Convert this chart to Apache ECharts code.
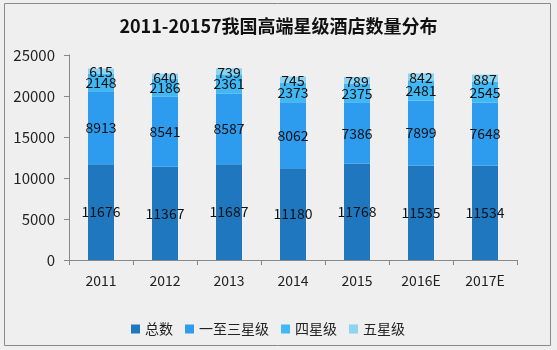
<!DOCTYPE html>
<html>
<head>
<meta charset="utf-8">
<script src="https://cdn.jsdelivr.net/npm/echarts@6/dist/echarts.min.js"></script>
<style>
html,body{margin:0;padding:0;background:#efefef;}
#c{width:557px;height:350px;}
</style>
</head>
<body>
<div id="c"></div>
<script>
var title = '2011-20157我国高端星级酒店数量分布';
var categories = ['2011','2012','2013','2014','2015','2016E','2017E'];
var seriesNames = ['总数','一至三星级','四星级','五星级'];
var total = [11676,11367,11687,11180,11768,11535,11534];
var star1to3 = [8913,8541,8587,8062,7386,7899,7648];
var star4 = [2148,2186,2361,2373,2375,2481,2545];
var star5 = [615,640,739,745,789,842,887];
var yTicks = [0,5000,10000,15000,20000,25000];

var colors = ['#1f77bf','#2e9cee','#3fb8f4','#8dd3f2'];
var font = "'Noto Sans CJK SC','Noto Sans',sans-serif";
var chart = echarts.init(document.getElementById('c'));
function mk(name, data, idx, offset){
  return {
    name: name, type: 'bar', stack: 's', data: data, barWidth: 26,
    itemStyle: {color: colors[idx]},
    label: {show: true, position: 'inside', color: '#111', fontSize: 14, fontFamily: font, offset: offset || [0,0]}
  };
}
chart.setOption({
  backgroundColor: '#efefef',
  animation: false,
  color: colors,
  title: {text: title, left: 'center', top: 12, textStyle: {fontSize: 18, fontWeight: 'bold', color: '#111', fontFamily: font}},
  graphic: [{type:'rect', shape:{x:4.5,y:3.5,width:546,height:342}, style:{fill:null, stroke:'#8a8a8a', lineWidth:1}, silent:true, z:-1}],
  legend: {data: seriesNames, left: 126, top: 317, itemWidth: 9, itemHeight: 9, itemGap: 12,
    icon: 'rect',
    textStyle: {fontSize: 14, color: '#222', fontFamily: font}},
  grid: {left: 69, right: 40, top: 55, bottom: 90},
  xAxis: {type: 'category', data: categories,
    axisLine: {lineStyle: {color: '#888'}},
    axisTick: {show: true, alignWithLabel: false, lineStyle:{color:'#888'}},
    axisLabel: {fontSize: 14, color: '#222', fontFamily: font, margin: 14}},
  yAxis: {type: 'value', min: yTicks[0], max: yTicks[yTicks.length-1], interval: yTicks[1]-yTicks[0],
    axisLine: {show: true, lineStyle: {color: '#888'}},
    axisTick: {show: true, lineStyle:{color:'#888'}},
    splitLine: {show: false},
    axisLabel: {fontSize: 15, color: '#222', fontFamily: font, margin: 14, formatter: function(v){ return String(v); }}},
  series: [
    mk(seriesNames[0], total, 0),
    mk(seriesNames[1], star1to3, 1),
    mk(seriesNames[2], star4, 2),
    mk(seriesNames[3], star5, 3, [0,1])
  ]
});
</script>
</body>
</html>
